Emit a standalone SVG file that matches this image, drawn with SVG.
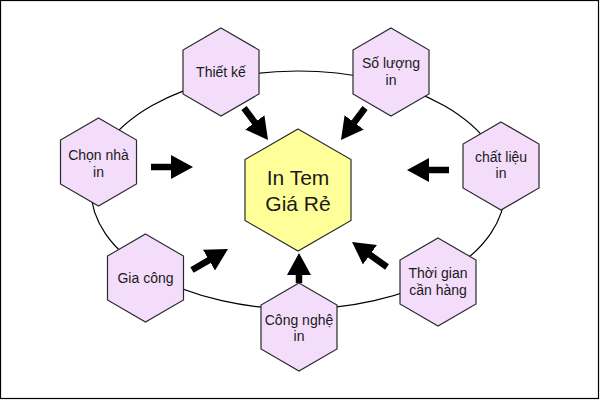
<svg xmlns="http://www.w3.org/2000/svg" width="600" height="400" viewBox="0 0 600 400">
<style>
.hex{fill:#F3DDFB;stroke:#2a2a2a;stroke-width:1.2}
.core{fill:#FFFF99;stroke:#2a2a2a;stroke-width:1.2}
.t{font-family:"Liberation Sans",Arial,sans-serif;font-size:14px;fill:#1a1a1a;text-anchor:middle}
.big{font-family:"Liberation Sans",Arial,sans-serif;font-size:21px;fill:#1a1a1a;text-anchor:middle}
.arr{stroke:#000;stroke-width:6.5;fill:none;marker-end:url(#head)}
</style>
<defs>
<polygon id="hx" points="0,-44 38,-22 38,22 0,44 -38,22 -38,-22"/>
<marker id="head" markerUnits="userSpaceOnUse" viewBox="0 0 22 24" markerWidth="22" markerHeight="24" refX="2" refY="12" orient="auto">
<path d="M0,0 L22,12 L0,24 Z" fill="#000"/>
</marker>
</defs>
<rect x="0.5" y="0.5" width="598" height="398" fill="#fff" stroke="#000" stroke-width="1.2"/>
<ellipse cx="298" cy="190" rx="207" ry="119" fill="none" stroke="#000" stroke-width="1.2"/>
<g id="connectors">
<line class="arr" x1="244" y1="108" x2="256" y2="124"/>
<line class="arr" x1="365" y1="108" x2="353" y2="124"/>
<line class="arr" x1="151" y1="167" x2="173" y2="167"/>
<line class="arr" x1="449" y1="170" x2="427" y2="170"/>
<line class="arr" x1="387" y1="267" x2="368.3" y2="253.6"/>
<line class="arr" x1="192" y1="270" x2="210.7" y2="259.1"/>
<line class="arr" x1="299" y1="283" x2="299" y2="273"/>
</g>
<g id="center">
<polygon class="core" points="298,129 351,159.5 351,220.5 298,251 245,220.5 245,159.5"/>
<text class="big" x="298" y="185">In Tem</text>
<text class="big" x="298" y="211">Giá Rẻ</text>
</g>
<g id="thiet-ke">
<use href="#hx" class="hex" x="221" y="72"/>
<text class="t" x="221" y="77">Thiết kế</text>
</g>
<g id="so-luong">
<use href="#hx" class="hex" x="391" y="72"/>
<text class="t" x="391" y="68">Số lượng</text>
<text class="t" x="391" y="85">in</text>
</g>
<g id="chon-nha-in">
<use href="#hx" class="hex" x="98.5" y="162"/>
<text class="t" x="98.5" y="160">Chọn nhà</text>
<text class="t" x="98.5" y="177">in</text>
</g>
<g id="chat-lieu">
<use href="#hx" class="hex" x="501" y="166"/>
<text class="t" x="501" y="162">chất liệu</text>
<text class="t" x="501" y="178">in</text>
</g>
<g id="gia-cong">
<use href="#hx" class="hex" x="145.5" y="278"/>
<text class="t" x="145.5" y="283">Gia công</text>
</g>
<g id="cong-nghe">
<use href="#hx" class="hex" x="299" y="327"/>
<text class="t" x="299" y="325">Công nghệ</text>
<text class="t" x="299" y="341">in</text>
</g>
<g id="thoi-gian">
<use href="#hx" class="hex" x="438" y="282"/>
<text class="t" x="438" y="278">Thời gian</text>
<text class="t" x="438" y="295">cần hàng</text>
</g>
</svg>
